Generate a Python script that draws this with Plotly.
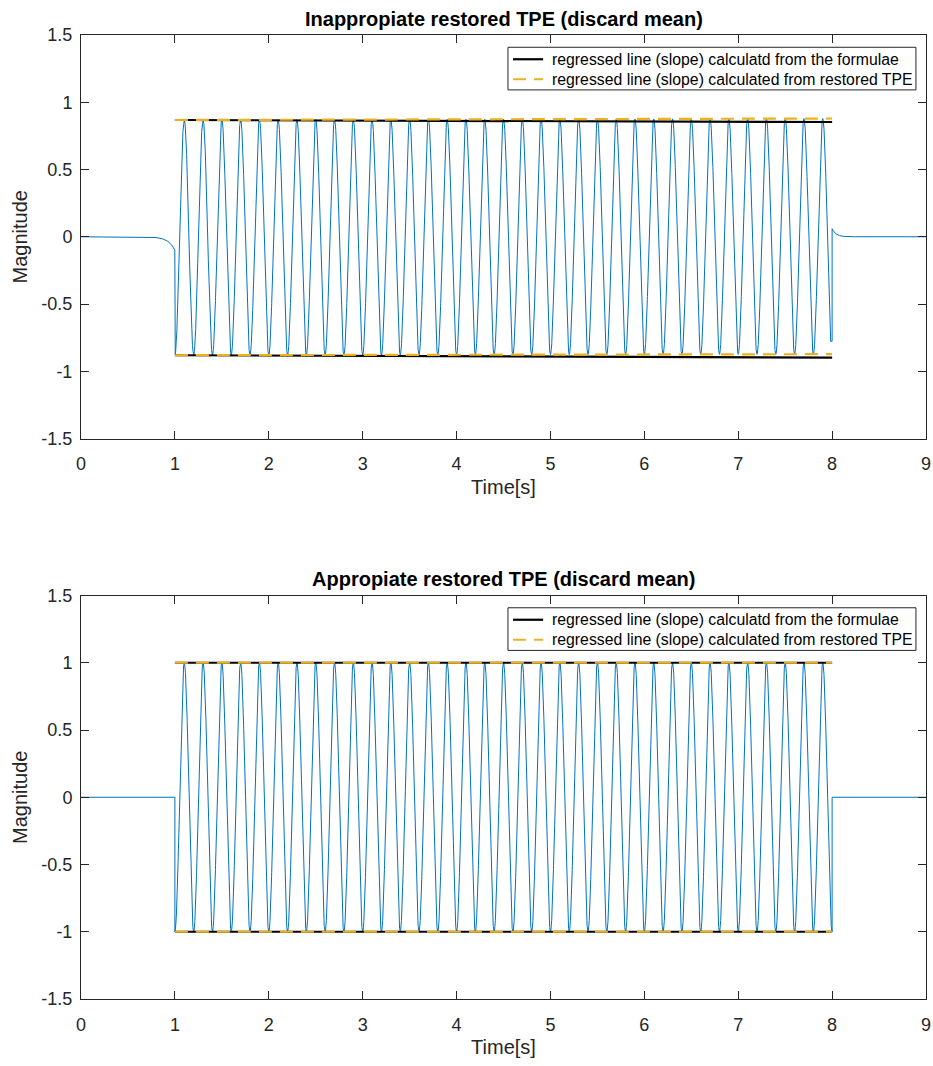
import numpy as np
import plotly.graph_objects as go
from plotly.subplots import make_subplots

# ---- data ----
titles = ["Inappropiate restored TPE (discard mean)", "Appropiate restored TPE (discard mean)"]
legend_names = ["regressed line (slope) calculatd from the formulae",
                "regressed line (slope) calculated from restored TPE"]

# regression line end points (t = 1 .. 8)
reg_t = [1.0, 8.0]
top_formula_upper = [0.868, 0.853]
top_formula_lower = [-0.881, -0.898]
top_restored_upper = [0.868, 0.879]
top_restored_lower = [-0.881, -0.873]
bot_formula_upper = [1.0, 1.0]
bot_formula_lower = [-1.0, -1.0]
bot_restored_upper = [1.0, 1.0]
bot_restored_lower = [-1.0, -1.0]

# signal parameters (tone burst)
tone_freq = 5.0          # Hz
tone_on = 1.0            # s
top_tone_off = 7.985     # s
bot_tone_off = 8.0
top_pre_step = -0.10     # value just before onset (top)
top_post_step = 0.06     # value just after offset (top)
x_ticks = [0, 1, 2, 3, 4, 5, 6, 7, 8, 9]
y_ticks = [-1.5, -1, -0.5, 0, 0.5, 1, 1.5]
y_ticktext = ["-1.5", "-1", "-0.5", "0", "0.5", "1", "1.5"]

BLUE = "#0072BD"
ORANGE = "#EDB120"
AXC = "#262626"
FONT = "Liberation Sans, Arial, sans-serif"
DASH = "13px,8px"


def tone(t, upper, lower):
    frac = (t - tone_on) / (reg_t[1] - reg_t[0])
    up = upper[0] + (upper[1] - upper[0]) * frac
    lo = lower[0] + (lower[1] - lower[0]) * frac
    mid = (up + lo) / 2
    amp = (up - lo) / 2
    return mid - amp * np.cos(2 * np.pi * tone_freq * (t - tone_on))


t = np.round(np.arange(0, 9.0005, 0.001), 4)

# top signal
y_top = np.zeros_like(t)
pre = t < tone_on
y_top[pre] = top_pre_step * np.exp((t[pre] - tone_on) / 0.07)
on = (t >= tone_on + 0.004) & (t <= top_tone_off)
y_top[on] = tone(t[on], top_restored_upper, top_restored_lower)
post = t > 8.0
y_top[post] = top_post_step * np.exp(-(t[post] - 8.0) / 0.04)
t_top = np.concatenate([t[pre], [tone_on], t[on], [8.0, 8.0], t[post]])
y_top = np.concatenate([y_top[pre], [tone(np.array([tone_on + 0.004]), top_restored_upper, top_restored_lower)[0]],
                        y_top[on], [y_top[on][-1], top_post_step], y_top[post]])

# bottom signal
y_bot = np.zeros_like(t)
onb = (t >= tone_on) & (t <= bot_tone_off)
y_bot[onb] = tone(t[onb], bot_restored_upper, bot_restored_lower)
t_bot = np.concatenate([t[t < tone_on], [tone_on], t[onb], [bot_tone_off], t[t > bot_tone_off]])
y_bot = np.concatenate([np.zeros((t < tone_on).sum()), [0.0], y_bot[onb], [0.0], np.zeros((t > bot_tone_off).sum())])

fig = make_subplots(rows=2, cols=1, vertical_spacing=157 / 964)

panels = [
    (1, t_top, y_top, top_formula_upper, top_formula_lower, top_restored_upper, top_restored_lower),
    (2, t_bot, y_bot, bot_formula_upper, bot_formula_lower, bot_restored_upper, bot_restored_lower),
]
for row, tt, yy, fu, fl, ru, rl in panels:
    fig.add_trace(go.Scatter(x=tt, y=yy, mode="lines", line=dict(color=BLUE, width=1),
                             showlegend=False, hoverinfo="skip"), row=row, col=1)
    for arr in (fu, fl):
        fig.add_trace(go.Scatter(x=reg_t, y=arr, mode="lines", line=dict(color="black", width=2.2),
                                 name=legend_names[0], showlegend=False), row=row, col=1)
    for arr in (ru, rl):
        fig.add_trace(go.Scatter(x=reg_t, y=arr, mode="lines", line=dict(color=ORANGE, width=2.2, dash=DASH),
                                 name=legend_names[1], showlegend=False), row=row, col=1)

axis_common = dict(showline=True, linecolor=AXC, linewidth=1, mirror="allticks", ticks="inside",
                   ticklen=8, tickcolor=AXC, showgrid=False, zeroline=False, automargin=False,
                   tickfont=dict(family=FONT, size=18, color=AXC))
for row in (1, 2):
    fig.update_xaxes(range=[0, 9], tickvals=x_ticks, ticklabelstandoff=9,
                     title=dict(text="Time[s]", font=dict(family=FONT, size=20, color=AXC), standoff=6),
                     row=row, col=1, **axis_common)
    fig.update_yaxes(range=[-1.5, 1.5], tickvals=y_ticks, ticktext=y_ticktext, ticklabelstandoff=4,
                     title=dict(text="Magnitude", font=dict(family=FONT, size=20, color=AXC), standoff=8),
                     row=row, col=1, **axis_common)

dom1 = fig.layout.yaxis.domain
dom2 = fig.layout.yaxis2.domain

# manual legend boxes (in each subplot's domain coordinates)
shapes = []
annotations = []
for xr, yr in (("x domain", "y domain"), ("x2 domain", "y2 domain")):
    shapes.append(dict(type="rect", xref=xr, yref=yr, x0=0.5053, x1=0.9881, y0=0.8639, y1=0.9696,
                       line=dict(color=AXC, width=1), fillcolor="white", layer="above"))
    shapes.append(dict(type="line", xref=xr, yref=yr, x0=0.5113, x1=0.5469, y0=0.9399, y1=0.9399,
                       line=dict(color="black", width=2.2), layer="above"))
    shapes.append(dict(type="line", xref=xr, yref=yr, x0=0.5113, x1=0.5469, y0=0.8903, y1=0.8903,
                       line=dict(color=ORANGE, width=2.2, dash=DASH), layer="above"))
    for name, yy in zip(legend_names, (0.9399, 0.8903)):
        annotations.append(dict(text=name, xref=xr, yref=yr, x=0.5552, y=yy, xanchor="left",
                                yanchor="middle", showarrow=False,
                                font=dict(family=FONT, size=15.8, color="black")))

for title, dom in zip(titles, (dom1, dom2)):
    annotations.append(dict(text="<b>" + title + "</b>", x=0.5, y=dom[1], xref="paper", yref="paper",
                            xanchor="center", yanchor="bottom", yshift=3, showarrow=False,
                            font=dict(family=FONT, size=20, color="black")))

fig.update_layout(
    width=933, height=1066,
    margin=dict(l=81, r=7, t=35, b=67),
    plot_bgcolor="white", paper_bgcolor="white",
    showlegend=False,
    shapes=shapes,
    annotations=annotations,
)

fig.write_html("out.html")
